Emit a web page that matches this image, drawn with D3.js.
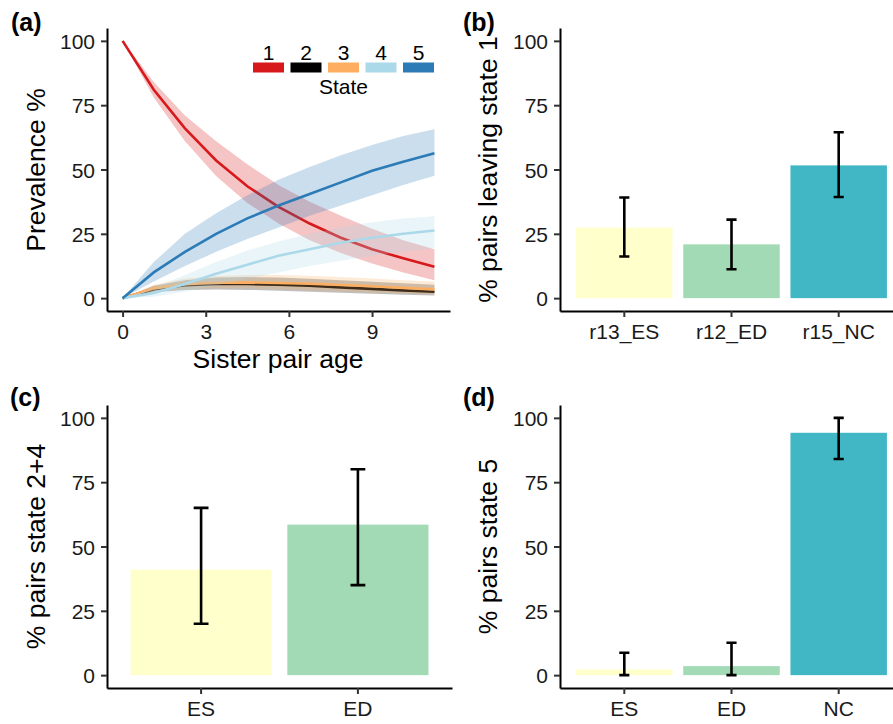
<!DOCTYPE html>
<html>
<head>
<meta charset="utf-8">
<script src="https://cdn.jsdelivr.net/npm/d3@7/dist/d3.min.js"></script>
<style>
  html, body { margin: 0; padding: 0; background: #fff; }
  svg { display: block; font-family: "Liberation Sans", Arial, sans-serif; }
</style>
</head>
<body>
<svg id="chart" width="893" height="724"></svg>
<script>
// (a) prevalence of each state against sister pair age, mean line + ribbon
const ages = [0, 1.125, 2.25, 3.375, 4.5, 5.625, 6.75, 7.875, 9, 10.125, 11.25];
const s1Mean = [100, 81, 66, 53.5, 43.5, 35.5, 29, 23.5, 19, 15.5, 12.2];
const s1Lo   = [100, 78, 61, 47.5, 37, 29, 22.5, 17.5, 13.5, 10, 7];
const s1Hi   = [100, 84, 71, 61, 52, 44, 37.5, 32, 27, 22.5, 19];
const s2Mean = [0, 3.5, 5, 5.5, 5.5, 5.2, 4.8, 4.2, 3.6, 3, 2.5];
const s2Lo   = [0, 2.3, 3.2, 3.4, 3.2, 2.9, 2.5, 2.1, 1.7, 1.3, 1];
const s2Hi   = [0, 4.8, 7, 8, 8.2, 8, 7.5, 7, 6.4, 5.8, 5.2];
const s3Mean = [0, 3.8, 5.4, 6, 6.1, 5.9, 5.6, 5.1, 4.6, 4, 3.4];
const s3Lo   = [0, 2.5, 3.5, 3.8, 3.7, 3.4, 3, 2.6, 2.1, 1.7, 1.3];
const s3Hi   = [0, 5.2, 7.6, 8.6, 9, 9, 8.7, 8.2, 7.6, 7, 6.4];
const s4Mean = [0, 2, 5.5, 9.5, 13, 16.5, 19, 21.5, 23.5, 25, 26.3];
const s4Lo   = [0, 0.5, 2.5, 5, 7.5, 10, 12.5, 14.5, 16.5, 18, 19.5];
const s4Hi   = [0, 4, 9, 14, 18.5, 22, 25, 27.5, 29.5, 31, 31.8];
const s5Mean = [0, 10, 18, 25, 31, 36, 40.5, 45, 49.5, 53, 56.3];
const s5Lo   = [0, 6.5, 12.5, 18, 23, 27.5, 32, 36, 40, 44, 47.6];
const s5Hi   = [0, 14, 25, 33, 40, 46, 51, 55.5, 59.5, 63, 65.6];
const stateNames = ['1', '2', '3', '4', '5'];
const stateColors = ['#d7191c', '#000000', '#fdae61', '#abd9e9', '#2c7bb6'];
const ageTicks = [0, 3, 6, 9];
const pctTicks = [0, 25, 50, 75, 100];

// (b) leaving state 1
const bCats = ['r13_ES', 'r12_ED', 'r15_NC'];
const bVals = [27.4, 20.9, 51.6];
const bLo   = [16.2, 11.2, 39.3];
const bHi   = [39.1, 30.5, 64.5];
// (c) state 2+4
const cCats = ['ES', 'ED'];
const cVals = [41, 58.5];
const cLo   = [20, 35];
const cHi   = [65, 80];
// (d) state 5
const dCats = ['ES', 'ED', 'NC'];
const dVals = [2.2, 3.5, 94.2];
const dLo   = [0, 0, 84];
const dHi   = [8.7, 12.6, 100];

const fillFor = c => c.endsWith('ES') ? '#ffffcc' : c.endsWith('ED') ? '#a1dab4' : '#41b6c4';

const svg = d3.select('#chart');
const TICK_FONT = 21, TITLE_FONT = 26.5;

function styleAxis(g) {
  g.select('.domain').attr('stroke', '#000').attr('stroke-width', 2);
  g.selectAll('.tick line').attr('stroke', '#333').attr('stroke-width', 2);
  g.selectAll('.tick text').attr('fill', '#1a1a1a').attr('font-size', TICK_FONT)
    .attr('font-family', '"Liberation Sans", Arial, sans-serif');
}

function yAxis(y, x0) {
  const g = svg.append('g').attr('transform', `translate(${x0},0)`)
    .call(d3.axisLeft(y).tickValues(pctTicks).tickSize(6).tickPadding(6).tickSizeOuter(0));
  styleAxis(g);
  g.selectAll('.tick text').attr('dy', '0.36em');
}

function xAxis(x, y0) {
  const g = svg.append('g').attr('transform', `translate(0,${y0})`)
    .call(d3.axisBottom(x).tickSize(6).tickPadding(7).tickSizeOuter(0)
      .tickValues(x.bandwidth ? null : ageTicks));
  styleAxis(g);
}

function yTitle(text, x, cy) {
  svg.append('text').attr('transform', `translate(${x},${cy}) rotate(-90)`)
    .attr('text-anchor', 'middle').attr('font-size', TITLE_FONT).attr('fill', '#000').text(text);
}

function tag(text, x, y) {
  svg.append('text').attr('x', x).attr('y', y).attr('font-size', 25)
    .attr('font-weight', 'bold').attr('fill', '#000').text(text);
}

// ---- panel (a)
{
  const x = d3.scaleLinear().domain([-0.5625, 11.8125]).range([107, 450]);
  const y = d3.scaleLinear().domain([-5, 105]).range([311, 28]);
  const means = [s1Mean, s2Mean, s3Mean, s4Mean, s5Mean];
  const los = [s1Lo, s2Lo, s3Lo, s4Lo, s5Lo];
  const his = [s1Hi, s2Hi, s3Hi, s4Hi, s5Hi];
  const area = d3.area().x(d => x(d.a)).y0(d => y(d.lo)).y1(d => y(d.hi));
  const line = d3.line().x(d => x(d.a)).y(d => y(d.m));
  stateNames.forEach((s, i) => {
    const pts = ages.map((a, j) => ({ a, m: means[i][j], lo: los[i][j], hi: his[i][j] }));
    svg.append('path').attr('d', area(pts)).attr('fill', stateColors[i]).attr('fill-opacity', 0.25);
    svg.append('path').attr('d', line(pts)).attr('fill', 'none')
      .attr('stroke', stateColors[i]).attr('stroke-width', 2.6);
  });
  yAxis(y, 107);
  xAxis(x, 311);
  yTitle('Prevalence %', 45, 170);
  svg.append('text').attr('x', 278).attr('y', 368).attr('text-anchor', 'middle')
    .attr('font-size', TITLE_FONT).attr('fill', '#000').text('Sister pair age');

  // legend
  const lg = svg.append('g');
  const keyX = d3.scalePoint().domain(stateNames).range([268.5, 418.5]);
  stateNames.forEach((s, i) => {
    lg.append('rect').attr('x', keyX(s) - 15.5).attr('y', 62.5).attr('width', 31).attr('height', 10)
      .attr('fill', stateColors[i]);
    lg.append('text').attr('x', keyX(s)).attr('y', 60).attr('text-anchor', 'middle')
      .attr('font-size', 21).attr('fill', '#000').text(s);
  });
  lg.append('text').attr('x', 343.5).attr('y', 94).attr('text-anchor', 'middle')
    .attr('font-size', 21).attr('fill', '#000').text('State');
  tag('(a)', 11, 31);
}

// ---- bar panels
function barPanel(cats, vals, lo, hi, x0, x1, yTop, yBot, title, titleX) {
  const x = d3.scaleBand().domain(cats).range([x0, x1]).paddingInner(0.1).paddingOuter(0.15);
  const y = d3.scaleLinear().domain([-5, 105]).range([yBot, yTop]);
  cats.forEach((c, i) => {
    svg.append('rect').attr('x', x(c)).attr('width', x.bandwidth())
      .attr('y', y(vals[i])).attr('height', y(0) - y(vals[i])).attr('fill', fillFor(c));
  });
  const cap = x.bandwidth() * 0.105;
  cats.forEach((c, i) => {
    const cx = x(c) + x.bandwidth() / 2;
    const p = d3.path();
    p.moveTo(cx, y(lo[i])); p.lineTo(cx, y(hi[i]));
    p.moveTo(cx - cap / 2, y(lo[i])); p.lineTo(cx + cap / 2, y(lo[i]));
    p.moveTo(cx - cap / 2, y(hi[i])); p.lineTo(cx + cap / 2, y(hi[i]));
    svg.append('path').attr('d', p.toString()).attr('fill', 'none')
      .attr('stroke', '#000').attr('stroke-width', 2.6);
  });
  yAxis(y, x0);
  xAxis(x, yBot);
  yTitle(title, titleX, (yTop + yBot) / 2);
}

barPanel(bCats, bVals, bLo, bHi, 560, 903, 28, 311, '% pairs leaving state 1', 497);
tag('(b)', 463, 31);
barPanel(cCats, cVals, cLo, cHi, 107, 452, 405, 688, '% pairs state 2+4', 45);
tag('(c)', 10, 406);
barPanel(dCats, dVals, dLo, dHi, 560, 903, 405, 688, '% pairs state 5', 497);
tag('(d)', 463, 406);
</script>
</body>
</html>
